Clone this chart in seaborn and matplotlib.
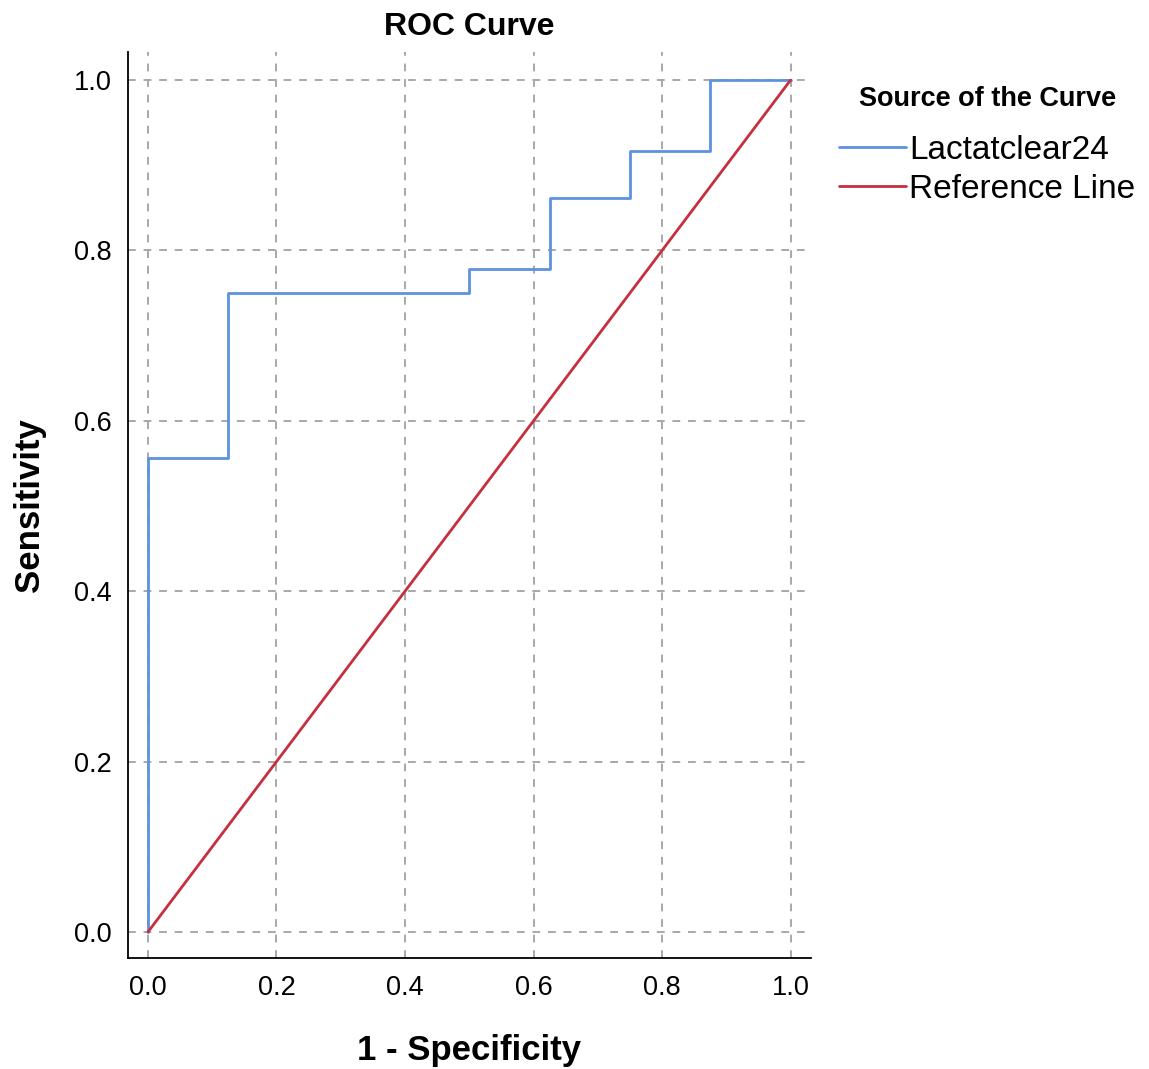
import numpy as np
import pandas as pd
import matplotlib
matplotlib.use("Agg")
import matplotlib.pyplot as plt
import seaborn as sns

# ROC coordinates (1 - specificity, sensitivity)
fpr = [0.0, 0.0, 0.125, 0.5, 0.625, 0.75, 0.875, 1.0]
tpr = [0.0, 0.556, 0.75, 0.778, 0.861, 0.917, 1.0, 1.0]
ref_x = [0.0, 1.0]
ref_y = [0.0, 1.0]
ticks = [0.0, 0.2, 0.4, 0.6, 0.8, 1.0]

sns.set_style("white")
plt.rcParams['font.family'] = ['Liberation Sans', 'DejaVu Sans']
plt.rcParams['text.color'] = 'black'
plt.rcParams['axes.labelcolor'] = 'black'
plt.rcParams['xtick.color'] = 'black'
plt.rcParams['ytick.color'] = 'black'

roc = pd.DataFrame({"x": fpr, "y": tpr})
ref = pd.DataFrame({"x": ref_x, "y": ref_y})

fig = plt.figure(figsize=(11.49, 10.69), dpi=100)
ax = fig.add_axes([0.1114, 0.1038, 0.5940, 0.8476])

sns.lineplot(data=roc, x="x", y="y", ax=ax, color="#5e92df", linewidth=2.0,
             sort=False, estimator=None, drawstyle="steps-post",
             label="Lactatclear24")
sns.lineplot(data=ref, x="x", y="y", ax=ax, color="#c62f3d", linewidth=2.0,
             sort=False, estimator=None, label="Reference Line")

ax.set_xlim(-0.031, 1.031)
ax.set_ylim(-0.0305, 1.033)
ax.set_xticks(ticks)
ax.set_yticks(ticks)
ax.set_xticklabels([f"{t:.1f}" for t in ticks])
ax.set_yticklabels([f"{t:.1f}" for t in ticks])
ax.tick_params(axis="both", length=0, labelsize=19.5, pad=12)
ax.grid(True, color="#a8a8a8", linestyle=(0, (4, 4)), linewidth=1.4)
ax.set_axisbelow(True)

for s in ["top", "right"]:
    ax.spines[s].set_visible(False)
for s in ["left", "bottom"]:
    ax.spines[s].set_color("black")
    ax.spines[s].set_linewidth(1.3)

ax.set_title("ROC Curve", fontsize=23, fontweight="bold", pad=12)
ax.set_xlabel("1 - Specificity", fontsize=25, fontweight="bold", labelpad=24)
ax.set_ylabel("Sensitivity", fontsize=25, fontweight="bold", labelpad=20)

leg = ax.legend(loc="upper left", bbox_to_anchor=(0.998, 0.995), frameon=False,
                title="Source of the Curve", fontsize=24, handlelength=2.0,
                handletextpad=0.1, labelspacing=0.25)
leg.get_title().set_fontweight("bold")
leg.get_title().set_fontsize(19.5)
leg._legend_box.sep = 16
for line in leg.get_lines():
    line.set_linewidth(2.0)

fig.savefig("out.png", dpi=100)
